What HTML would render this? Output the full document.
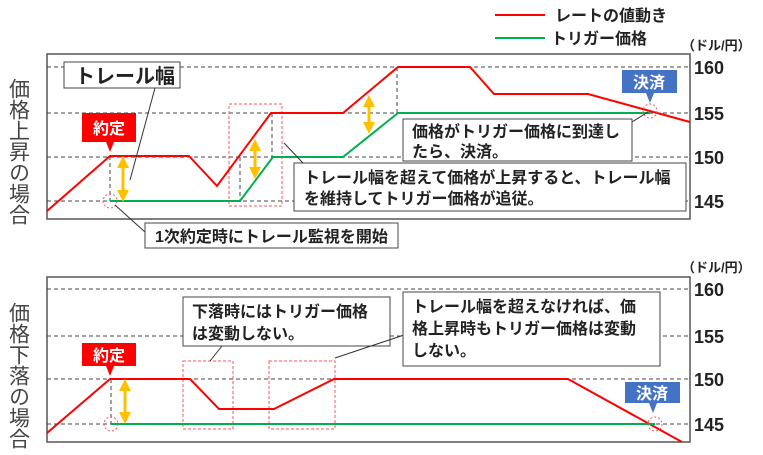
<!DOCTYPE html>
<html><head><meta charset="utf-8"><style>
html,body{margin:0;padding:0;background:#fff;}
svg{display:block;font-family:"Liberation Sans","Noto Sans CJK JP",sans-serif;}
.b{font-weight:bold;fill:#222;}
</style></head><body>
<svg width="763" height="455" viewBox="0 0 763 455" xmlns="http://www.w3.org/2000/svg">
<defs>
<marker id="ah" markerWidth="4" markerHeight="4" refX="2" refY="2" orient="auto-start-reverse" markerUnits="strokeWidth"><path d="M0,0 L4,2 L0,4 z" fill="#FFC000"/></marker>
</defs>
<!-- legend -->
<line x1="495" y1="15" x2="545" y2="15" stroke="#FF0000" stroke-width="2"/>
<text x="555" y="21" font-size="16" class="b">レートの値動き</text>
<line x1="495" y1="38" x2="545" y2="38" stroke="#00B050" stroke-width="2"/>
<text x="551" y="44" font-size="16" class="b">トリガー価格</text>
<text x="682" y="50" font-size="13" class="b">（ドル/円）</text>

<!-- TOP CHART -->
<text x="18" y="78" font-size="21" fill="#444" style="writing-mode:vertical-rl">価格上昇の場合</text>
<rect x="47" y="54" width="643" height="165" fill="none" stroke="#555" stroke-width="1.5"/>
<g stroke="#444" stroke-dasharray="4,3" stroke-width="1">
<line x1="47" y1="67" x2="690" y2="67"/><line x1="47" y1="113" x2="690" y2="113"/>
<line x1="47" y1="157" x2="690" y2="157"/><line x1="47" y1="201" x2="690" y2="201"/>
<line x1="110" y1="156" x2="110" y2="201"/><line x1="240" y1="157" x2="240" y2="201"/>
<line x1="272" y1="113" x2="272" y2="157"/><line x1="397" y1="67" x2="397" y2="113"/>
</g>
<g font-size="18" class="b"><text x="694" y="74">160</text><text x="694" y="120">155</text><text x="694" y="164">150</text><text x="694" y="208">145</text></g>
<rect x="229" y="104" width="53" height="102" fill="none" stroke="#FF5555" stroke-dasharray="3,2"/>
<polyline points="47,211 110,156 189,156 217,186 271,113 343,113 398,67 470,67 494,94 588,94 690,122" fill="none" stroke="#FF0000" stroke-width="2"/>
<polyline points="110,201 240,201 273,157 343,157 398,113 650,113" fill="none" stroke="#00B050" stroke-width="2"/>
<g stroke="#FFC000" stroke-width="3" marker-start="url(#ah)" marker-end="url(#ah)">
<line x1="123" y1="162" x2="123" y2="196"/><line x1="255" y1="145" x2="255" y2="173"/><line x1="369" y1="101" x2="369" y2="128"/>
</g>
<circle cx="110" cy="201" r="7" fill="none" stroke="#FF5555" stroke-dasharray="2,2"/>
<circle cx="650" cy="111" r="7" fill="none" stroke="#FF5555" stroke-dasharray="2,2"/>
<!-- callouts top -->
<line x1="155" y1="88" x2="130" y2="180" stroke="#333"/>
<rect x="64" y="62" width="116" height="26" fill="#fff" stroke="#444"/>
<text x="75" y="83" font-size="20" class="b">トレール幅</text>
<path d="M82,113 H136 V142 H114 L110,152 L106,142 H82 Z" fill="#FF0000"/>
<text x="93" y="134" font-size="16" font-weight="bold" fill="#fff">約定</text>
<line x1="115" y1="205" x2="145" y2="232" stroke="#333"/>
<rect x="145" y="223" width="253" height="25" fill="#fff" stroke="#444"/>
<text x="155" y="242" font-size="16" class="b">1次約定時にトレール監視を開始</text>
<line x1="284" y1="143" x2="303" y2="163" stroke="#333"/>
<rect x="294" y="163" width="392" height="48" fill="#fff" stroke="#444"/>
<text x="304" y="183" font-size="16" class="b">トレール幅を超えて価格が上昇すると、トレール幅</text>
<text x="304" y="204" font-size="16" class="b">を維持してトリガー価格が追従。</text>
<line x1="632" y1="122" x2="648" y2="112" stroke="#333"/>
<rect x="403" y="119" width="229" height="42" fill="#fff" stroke="#444"/>
<text x="412" y="137" font-size="16" class="b">価格がトリガー価格に到達し</text>
<text x="412" y="157" font-size="16" class="b">たら、決済。</text>
<path d="M622,70 H677 V93 H654 L650,103 L646,93 H622 Z" fill="#4472C4"/>
<text x="633" y="88" font-size="16" font-weight="bold" fill="#fff">決済</text>

<!-- BOTTOM CHART -->
<text x="682" y="272" font-size="13" class="b">（ドル/円）</text>
<text x="18" y="302" font-size="21" fill="#444" style="writing-mode:vertical-rl">価格下落の場合</text>
<rect x="47" y="277" width="643" height="165" fill="none" stroke="#555" stroke-width="1.5"/>
<g stroke="#444" stroke-dasharray="4,3" stroke-width="1">
<line x1="47" y1="289" x2="690" y2="289"/><line x1="47" y1="336" x2="690" y2="336"/>
<line x1="47" y1="379" x2="690" y2="379"/><line x1="47" y1="424" x2="690" y2="424"/>
<line x1="111" y1="379" x2="111" y2="424"/>
</g>
<g font-size="18" class="b"><text x="694" y="296">160</text><text x="694" y="343">155</text><text x="694" y="386">150</text><text x="694" y="431">145</text></g>
<rect x="183" y="361" width="50" height="68" fill="none" stroke="#FF5555" stroke-dasharray="3,2"/>
<rect x="269" y="361" width="66" height="68" fill="none" stroke="#FF5555" stroke-dasharray="3,2"/>
<polyline points="47,433 110,379 190,379 219,409 274,409 334,379 568,379 682,442" fill="none" stroke="#FF0000" stroke-width="2"/>
<line x1="111" y1="424" x2="655" y2="424" stroke="#00B050" stroke-width="2"/>
<line x1="125" y1="385" x2="125" y2="418" stroke="#FFC000" stroke-width="3" marker-start="url(#ah)" marker-end="url(#ah)"/>
<circle cx="111" cy="424" r="7" fill="none" stroke="#FF5555" stroke-dasharray="2,2"/>
<circle cx="655" cy="424" r="7" fill="none" stroke="#FF5555" stroke-dasharray="2,2"/>
<line x1="210" y1="361" x2="222" y2="346" stroke="#333"/>
<rect x="183" y="297" width="207" height="49" fill="#fff" stroke="#444"/>
<text x="192" y="317" font-size="16" class="b">下落時にはトリガー価格</text>
<text x="192" y="339" font-size="16" class="b">は変動しない。</text>
<line x1="335" y1="358" x2="404" y2="335" stroke="#333"/>
<rect x="403" y="292" width="257" height="74" fill="#fff" stroke="#444"/>
<text x="412" y="312" font-size="16" class="b">トレール幅を超えなければ、価</text>
<text x="412" y="334" font-size="16" class="b">格上昇時もトリガー価格は変動</text>
<text x="412" y="356" font-size="16" class="b">しない。</text>
<path d="M82,343 H136 V366 H114 L110,376 L106,366 H82 Z" fill="#FF0000"/>
<text x="93" y="361" font-size="16" font-weight="bold" fill="#fff">約定</text>
<path d="M625,382 H680 V403 H657 L653,413 L649,403 H625 Z" fill="#4472C4"/>
<text x="636" y="399" font-size="16" font-weight="bold" fill="#fff">決済</text>
</svg>
</body></html>
